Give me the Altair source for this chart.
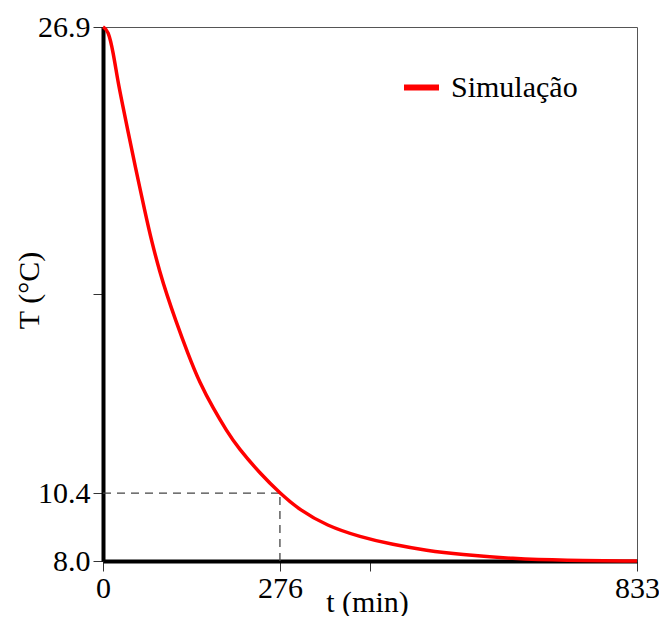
import altair as alt
import pandas as pd

# Curve
t_min = [0, 8, 16, 23, 31, 39, 50, 66, 76, 89, 100, 112, 133, 151, 172, 193, 211, 245, 276, 307, 349, 401, 452, 505, 557, 640, 718, 833]
temp_c = [26.9, 26.8, 26.0, 25.0, 24.1, 23.2, 22.0, 20.3, 19.3, 18.2, 17.4, 16.6, 15.3, 14.3, 13.4, 12.6, 12.0, 11.1, 10.4, 9.8, 9.25, 8.85, 8.58, 8.37, 8.23, 8.08, 8.02, 8.0]
series_name = "Simulação"

# Axis ticks
x_ticks = [0, 276, 416.5, 833]
y_ticks = [8.0, 10.4, 17.45, 26.9]
x_domain = [0, 833]
y_domain = [8.0, 26.9]

# Marker (dashed guide)
marker_t = 276
marker_T = 10.4

FONT = "Liberation Serif"

curve_df = pd.DataFrame({"t": t_min, "T": temp_c, "s": [series_name] * len(t_min)})
hline_df = pd.DataFrame({"t0": [x_domain[0]], "t1": [marker_t], "T": [marker_T]})
vline_df = pd.DataFrame({"t": [marker_t], "T0": [y_domain[0]], "T1": [marker_T]})

x_scale = alt.Scale(domain=x_domain, nice=False, zero=False)
y_scale = alt.Scale(domain=y_domain, nice=False, zero=False)

x_axis = alt.Axis(
    values=x_ticks,
    labelExpr="datum.value == 416.5 ? '' : format(datum.value, 'd')",
    title="t (min)",
    grid=False,
    domainColor="black", domainWidth=4,
    tickColor="#333", tickWidth=1, tickSize=10,
    labelFont=FONT, labelFontSize=30, labelColor="black", labelPadding=2,
    labelFlush=False, labelOverlap=False,
    titleFont=FONT, titleFontSize=30, titleFontWeight="normal", titleColor="black",
    titleBaseline="alphabetic", titleX=264, titleY=50,
)
y_axis = alt.Axis(
    values=y_ticks,
    labelExpr="datum.value == 17.45 ? '' : format(datum.value, '.1f')",
    title="T (°C)",
    grid=False,
    domainColor="black", domainWidth=4,
    tickColor="#333", tickWidth=1, tickSize=10,
    labelFont=FONT, labelFontSize=30, labelColor="black", labelPadding=3,
    labelFlush=False, labelOverlap=False, labelBaseline="middle",
    titleFont=FONT, titleFontSize=30, titleFontWeight="normal", titleColor="black",
    titleAngle=-90, titleBaseline="middle", titleAlign="center",
    titleX=-74, titleY=263,
)

hline = alt.Chart(hline_df).mark_rule(color="#444", strokeWidth=1.3, strokeDash=[8, 6]).encode(
    x=alt.X("t0:Q", scale=x_scale, axis=x_axis),
    x2="t1:Q",
    y=alt.Y("T:Q", scale=y_scale, axis=y_axis),
)
vline = alt.Chart(vline_df).mark_rule(color="#444", strokeWidth=1.3, strokeDash=[8, 6]).encode(
    x=alt.X("t:Q", scale=x_scale),
    y=alt.Y("T0:Q", scale=y_scale),
    y2="T1:Q",
)

curve = alt.Chart(curve_df).mark_line(strokeWidth=3.5, interpolate="basis").encode(
    x=alt.X("t:Q", scale=x_scale),
    y=alt.Y("T:Q", scale=y_scale),
    color=alt.Color(
        "s:N",
        scale=alt.Scale(domain=[series_name], range=["#ff0000"]),
        legend=alt.Legend(
            title=None, orient="none", legendX=298, legendY=40,
            symbolType="stroke", symbolStrokeWidth=6, symbolSize=1225,
            labelFont=FONT, labelFontSize=30, labelColor="black", labelOffset=9,
            padding=0,
        ),
    ),
)

chart = (
    alt.layer(hline, vline, curve)
    .properties(
        width=534, height=534,
        autosize=alt.AutoSizeParams(type="none"),
        padding={"left": 95, "top": 19, "right": 22, "bottom": 55},
    )
    .configure_view(stroke="#555", strokeWidth=1)
)

chart.save("out.html", embed_options={"renderer": "svg", "actions": False})
